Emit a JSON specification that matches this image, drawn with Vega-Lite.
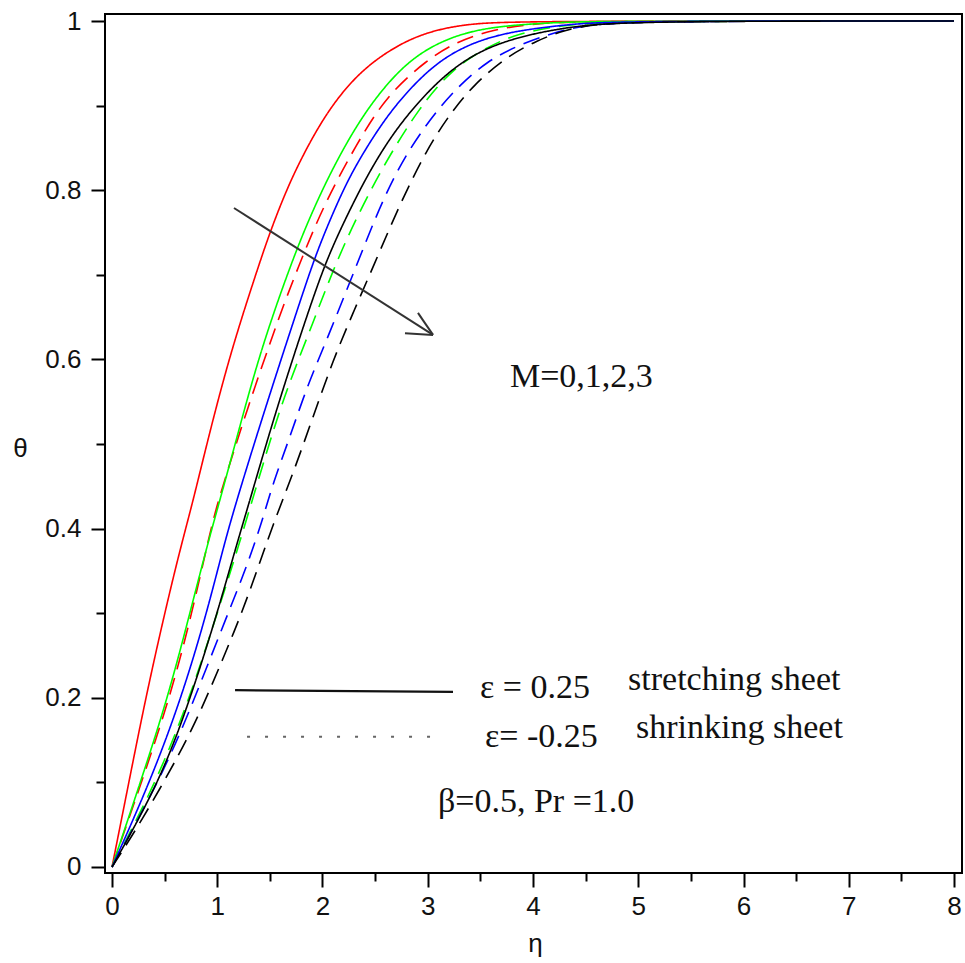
{
  "$schema": "https://vega.github.io/schema/vega-lite/v6.json",
  "width": 857,
  "height": 859,
  "autosize": {"type": "none"},
  "padding": {"left": 105, "top": 14, "right": 3, "bottom": 90},
  "background": "white",
  "config": {
    "view": {"stroke": "#000", "strokeWidth": 2},
    "axis": {"domain": false, "grid": false, "labelFont": "Liberation Sans", "labelFontSize": 26, "labelColor": "#111", "tickColor": "#000", "tickWidth": 2, "titleFont": "Liberation Sans", "titleFontSize": 26, "titleFontWeight": "normal", "titleColor": "#111"}
  },
  "datasets": {
    "curves": [
      {"M":"0","sheet":"shrinking","eta":0,"theta":0},{"M":"0","sheet":"shrinking","eta":0.28,"theta":0.1},{"M":"0","sheet":"shrinking","eta":0.55,"theta":0.2},{"M":"0","sheet":"shrinking","eta":0.76,"theta":0.3},{"M":"0","sheet":"shrinking","eta":0.93,"theta":0.395},{"M":"0","sheet":"shrinking","eta":1.01,"theta":0.434},{"M":"0","sheet":"shrinking","eta":1.28,"theta":0.54},{"M":"0","sheet":"shrinking","eta":1.6,"theta":0.655},{"M":"0","sheet":"shrinking","eta":1.76,"theta":0.706},{"M":"0","sheet":"shrinking","eta":2.0,"theta":0.78},{"M":"0","sheet":"shrinking","eta":2.33,"theta":0.856},{"M":"0","sheet":"shrinking","eta":2.61,"theta":0.912},{"M":"0","sheet":"shrinking","eta":2.99,"theta":0.954},{"M":"0","sheet":"shrinking","eta":3.28,"theta":0.976},{"M":"0","sheet":"shrinking","eta":3.62,"theta":0.99},{"M":"0","sheet":"shrinking","eta":4.0,"theta":0.997},{"M":"0","sheet":"shrinking","eta":4.5,"theta":1.0},{"M":"0","sheet":"shrinking","eta":8,"theta":1.0},
      {"M":"1","sheet":"shrinking","eta":0,"theta":0},{"M":"1","sheet":"shrinking","eta":0.42,"theta":0.1},{"M":"1","sheet":"shrinking","eta":0.74,"theta":0.2},{"M":"1","sheet":"shrinking","eta":1.0,"theta":0.3},{"M":"1","sheet":"shrinking","eta":1.2,"theta":0.378},{"M":"1","sheet":"shrinking","eta":1.41,"theta":0.466},{"M":"1","sheet":"shrinking","eta":1.63,"theta":0.556},{"M":"1","sheet":"shrinking","eta":1.91,"theta":0.643},{"M":"1","sheet":"shrinking","eta":2.17,"theta":0.729},{"M":"1","sheet":"shrinking","eta":2.55,"theta":0.824},{"M":"1","sheet":"shrinking","eta":2.93,"theta":0.9},{"M":"1","sheet":"shrinking","eta":3.24,"theta":0.944},{"M":"1","sheet":"shrinking","eta":3.56,"theta":0.969},{"M":"1","sheet":"shrinking","eta":3.85,"theta":0.985},{"M":"1","sheet":"shrinking","eta":4.26,"theta":0.995},{"M":"1","sheet":"shrinking","eta":4.8,"theta":1.0},{"M":"1","sheet":"shrinking","eta":8,"theta":1.0},
      {"M":"2","sheet":"shrinking","eta":0,"theta":0},{"M":"2","sheet":"shrinking","eta":0.52,"theta":0.118},{"M":"2","sheet":"shrinking","eta":0.84,"theta":0.217},{"M":"2","sheet":"shrinking","eta":1.09,"theta":0.296},{"M":"2","sheet":"shrinking","eta":1.28,"theta":0.355},{"M":"2","sheet":"shrinking","eta":1.43,"theta":0.41},{"M":"2","sheet":"shrinking","eta":1.53,"theta":0.454},{"M":"2","sheet":"shrinking","eta":1.69,"theta":0.508},{"M":"2","sheet":"shrinking","eta":1.85,"theta":0.567},{"M":"2","sheet":"shrinking","eta":2.04,"theta":0.623},{"M":"2","sheet":"shrinking","eta":2.23,"theta":0.682},{"M":"2","sheet":"shrinking","eta":2.38,"theta":0.729},{"M":"2","sheet":"shrinking","eta":2.57,"theta":0.788},{"M":"2","sheet":"shrinking","eta":2.8,"theta":0.845},{"M":"2","sheet":"shrinking","eta":3.09,"theta":0.895},{"M":"2","sheet":"shrinking","eta":3.31,"theta":0.925},{"M":"2","sheet":"shrinking","eta":3.56,"theta":0.952},{"M":"2","sheet":"shrinking","eta":3.85,"theta":0.971},{"M":"2","sheet":"shrinking","eta":4.19,"theta":0.986},{"M":"2","sheet":"shrinking","eta":4.48,"theta":0.995},{"M":"2","sheet":"shrinking","eta":5.0,"theta":1.0},{"M":"2","sheet":"shrinking","eta":8,"theta":1.0},
      {"M":"3","sheet":"shrinking","eta":0,"theta":0},{"M":"3","sheet":"shrinking","eta":0.27,"theta":0.052},{"M":"3","sheet":"shrinking","eta":0.65,"theta":0.135},{"M":"3","sheet":"shrinking","eta":0.86,"theta":0.189},{"M":"3","sheet":"shrinking","eta":1.05,"theta":0.245},{"M":"3","sheet":"shrinking","eta":1.22,"theta":0.296},{"M":"3","sheet":"shrinking","eta":1.38,"theta":0.351},{"M":"3","sheet":"shrinking","eta":1.53,"theta":0.405},{"M":"3","sheet":"shrinking","eta":1.72,"theta":0.465},{"M":"3","sheet":"shrinking","eta":1.91,"theta":0.532},{"M":"3","sheet":"shrinking","eta":2.1,"theta":0.599},{"M":"3","sheet":"shrinking","eta":2.29,"theta":0.655},{"M":"3","sheet":"shrinking","eta":2.48,"theta":0.709},{"M":"3","sheet":"shrinking","eta":2.74,"theta":0.785},{"M":"3","sheet":"shrinking","eta":2.99,"theta":0.848},{"M":"3","sheet":"shrinking","eta":3.21,"theta":0.89},{"M":"3","sheet":"shrinking","eta":3.43,"theta":0.924},{"M":"3","sheet":"shrinking","eta":3.75,"theta":0.958},{"M":"3","sheet":"shrinking","eta":4.04,"theta":0.977},{"M":"3","sheet":"shrinking","eta":4.29,"theta":0.989},{"M":"3","sheet":"shrinking","eta":4.57,"theta":0.996},{"M":"3","sheet":"shrinking","eta":5.1,"theta":1.0},{"M":"3","sheet":"shrinking","eta":8,"theta":1.0},
      {"M":"0","sheet":"stretching","eta":0,"theta":0},{"M":"0","sheet":"stretching","eta":0.16,"theta":0.1},{"M":"0","sheet":"stretching","eta":0.32,"theta":0.2},{"M":"0","sheet":"stretching","eta":0.5,"theta":0.3},{"M":"0","sheet":"stretching","eta":0.646,"theta":0.375},{"M":"0","sheet":"stretching","eta":0.773,"theta":0.434},{"M":"0","sheet":"stretching","eta":0.9,"theta":0.5},{"M":"0","sheet":"stretching","eta":1.12,"theta":0.606},{"M":"0","sheet":"stretching","eta":1.38,"theta":0.706},{"M":"0","sheet":"stretching","eta":1.5,"theta":0.75},{"M":"0","sheet":"stretching","eta":1.64,"theta":0.795},{"M":"0","sheet":"stretching","eta":1.79,"theta":0.836},{"M":"0","sheet":"stretching","eta":2.04,"theta":0.893},{"M":"0","sheet":"stretching","eta":2.36,"theta":0.942},{"M":"0","sheet":"stretching","eta":2.74,"theta":0.974},{"M":"0","sheet":"stretching","eta":3.05,"theta":0.989},{"M":"0","sheet":"stretching","eta":3.4,"theta":0.997},{"M":"0","sheet":"stretching","eta":3.9,"theta":1.0},{"M":"0","sheet":"stretching","eta":8,"theta":1.0},
      {"M":"1","sheet":"stretching","eta":0,"theta":0},{"M":"1","sheet":"stretching","eta":0.27,"theta":0.1},{"M":"1","sheet":"stretching","eta":0.53,"theta":0.2},{"M":"1","sheet":"stretching","eta":0.74,"theta":0.3},{"M":"1","sheet":"stretching","eta":0.9,"theta":0.378},{"M":"1","sheet":"stretching","eta":1.026,"theta":0.434},{"M":"1","sheet":"stretching","eta":1.17,"theta":0.5},{"M":"1","sheet":"stretching","eta":1.41,"theta":0.611},{"M":"1","sheet":"stretching","eta":1.72,"theta":0.72},{"M":"1","sheet":"stretching","eta":1.91,"theta":0.777},{"M":"1","sheet":"stretching","eta":2.12,"theta":0.832},{"M":"1","sheet":"stretching","eta":2.4,"theta":0.893},{"M":"1","sheet":"stretching","eta":2.74,"theta":0.945},{"M":"1","sheet":"stretching","eta":3.05,"theta":0.972},{"M":"1","sheet":"stretching","eta":3.37,"theta":0.987},{"M":"1","sheet":"stretching","eta":3.69,"theta":0.994},{"M":"1","sheet":"stretching","eta":4.16,"theta":0.998},{"M":"1","sheet":"stretching","eta":4.6,"theta":1.0},{"M":"1","sheet":"stretching","eta":8,"theta":1.0},
      {"M":"2","sheet":"stretching","eta":0,"theta":0},{"M":"2","sheet":"stretching","eta":0.36,"theta":0.1},{"M":"2","sheet":"stretching","eta":0.66,"theta":0.2},{"M":"2","sheet":"stretching","eta":0.9,"theta":0.3},{"M":"2","sheet":"stretching","eta":1.058,"theta":0.378},{"M":"2","sheet":"stretching","eta":1.185,"theta":0.434},{"M":"2","sheet":"stretching","eta":1.47,"theta":0.548},{"M":"2","sheet":"stretching","eta":1.79,"theta":0.67},{"M":"2","sheet":"stretching","eta":1.95,"theta":0.729},{"M":"2","sheet":"stretching","eta":2.14,"theta":0.785},{"M":"2","sheet":"stretching","eta":2.29,"theta":0.824},{"M":"2","sheet":"stretching","eta":2.52,"theta":0.871},{"M":"2","sheet":"stretching","eta":2.74,"theta":0.908},{"M":"2","sheet":"stretching","eta":3.05,"theta":0.948},{"M":"2","sheet":"stretching","eta":3.37,"theta":0.972},{"M":"2","sheet":"stretching","eta":3.75,"theta":0.987},{"M":"2","sheet":"stretching","eta":4.32,"theta":0.996},{"M":"2","sheet":"stretching","eta":4.8,"theta":1.0},{"M":"2","sheet":"stretching","eta":8,"theta":1.0},
      {"M":"3","sheet":"stretching","eta":0,"theta":0},{"M":"3","sheet":"stretching","eta":0.45,"theta":0.1},{"M":"3","sheet":"stretching","eta":0.74,"theta":0.197},{"M":"3","sheet":"stretching","eta":1.0,"theta":0.3},{"M":"3","sheet":"stretching","eta":1.17,"theta":0.375},{"M":"3","sheet":"stretching","eta":1.311,"theta":0.434},{"M":"3","sheet":"stretching","eta":1.57,"theta":0.545},{"M":"3","sheet":"stretching","eta":1.91,"theta":0.674},{"M":"3","sheet":"stretching","eta":2.07,"theta":0.727},{"M":"3","sheet":"stretching","eta":2.26,"theta":0.777},{"M":"3","sheet":"stretching","eta":2.42,"theta":0.816},{"M":"3","sheet":"stretching","eta":2.61,"theta":0.856},{"M":"3","sheet":"stretching","eta":2.83,"theta":0.893},{"M":"3","sheet":"stretching","eta":3.12,"theta":0.932},{"M":"3","sheet":"stretching","eta":3.43,"theta":0.961},{"M":"3","sheet":"stretching","eta":3.81,"theta":0.98},{"M":"3","sheet":"stretching","eta":4.32,"theta":0.993},{"M":"3","sheet":"stretching","eta":4.9,"theta":1.0},{"M":"3","sheet":"stretching","eta":8,"theta":1.0}
    ],
    "arrow": [
      {"part":"shaft","eta":1.159,"theta":0.779,"eta2":3.05,"theta2":0.629},
      {"part":"barb1","eta":2.907,"theta":0.655,"eta2":3.05,"theta2":0.629},
      {"part":"barb2","eta":2.784,"theta":0.631,"eta2":3.05,"theta2":0.629}
    ],
    "solidkey": [
      {"eta":1.169,"theta":0.209,"eta2":3.24,"theta2":0.207}
    ],
    "dottedkey": [
      {"eta":1.283,"theta":0.154,"eta2":3.116,"theta2":0.154}
    ],
    "notes": [
      {"label":"M=0,1,2,3","eta":3.781,"theta":0.567},
      {"label":"ε = 0.25","eta":3.497,"theta":0.2},
      {"label":"stretching sheet","eta":4.903,"theta":0.209},
      {"label":"ε= -0.25","eta":3.544,"theta":0.142},
      {"label":"shrinking sheet","eta":4.979,"theta":0.152},
      {"label":"β=0.5, Pr =1.0","eta":3.097,"theta":0.065}
    ]
  },
  "layer": [
    {
      "data": {"name": "curves"},
      "mark": {"type": "line", "strokeWidth": 1.6, "interpolate": "basis", "clip": true},
      "encoding": {
        "x": {"field": "eta", "type": "quantitative", "scale": {"domain": [-0.0665, 8.076], "nice": false, "zero": false},
          "axis": {"title": "η", "values": [0,0.5,1,1.5,2,2.5,3,3.5,4,4.5,5,5.5,6,6.5,7,7.5,8],
            "labelExpr": "datum.value % 1 === 0 ? format(datum.value, 'd') : ''",
            "tickSize": {"condition": {"test": "datum.value % 1 === 0", "value": 14}, "value": 8},
            "labelPadding": 6, "titleX": 430, "titleY": 70, "titleBaseline": "middle"}},
        "y": {"field": "theta", "type": "quantitative", "scale": {"domain": [-0.0071, 1.0083], "nice": false, "zero": false},
          "axis": {"title": "θ", "values": [0,0.1,0.2,0.3,0.4,0.5,0.6,0.7,0.8,0.9,1],
            "labelExpr": "round(datum.value*10) % 2 === 0 ? format(datum.value, '~g') : ''",
            "tickSize": {"condition": {"test": "round(datum.value*10) % 2 === 0", "value": 14}, "value": 9},
            "labelPadding": 10, "titleAngle": 0, "titleX": -85, "titleY": 434, "titleAlign": "center", "titleBaseline": "middle"}},
        "color": {"field": "M", "type": "nominal", "scale": {"domain": ["0","1","2","3"], "range": ["#ff0000","#00ff00","#0000ff","#000000"]}, "legend": null},
        "strokeDash": {"field": "sheet", "type": "nominal", "scale": {"domain": ["stretching","shrinking"], "range": [[1,0],[17,9]]}, "legend": null},
        "detail": {"field": "sheet"}
      }
    },
    {
      "data": {"name": "arrow"},
      "mark": {"type": "rule", "color": "#333", "strokeWidth": 2},
      "encoding": {
        "x": {"field": "eta", "type": "quantitative"},
        "y": {"field": "theta", "type": "quantitative"},
        "x2": {"field": "eta2"},
        "y2": {"field": "theta2"}
      }
    },
    {
      "data": {"name": "solidkey"},
      "mark": {"type": "rule", "strokeWidth": 2.2, "color": "#111"},
      "encoding": {
        "x": {"field": "eta", "type": "quantitative"},
        "y": {"field": "theta", "type": "quantitative"},
        "x2": {"field": "eta2"},
        "y2": {"field": "theta2"}
      }
    },
    {
      "data": {"name": "dottedkey"},
      "mark": {"type": "rule", "strokeWidth": 2, "color": "#666", "strokeDash": [3, 15]},
      "encoding": {
        "x": {"field": "eta", "type": "quantitative"},
        "y": {"field": "theta", "type": "quantitative"},
        "x2": {"field": "eta2"},
        "y2": {"field": "theta2"}
      }
    },
    {
      "data": {"name": "notes"},
      "mark": {"type": "text", "font": "Liberation Serif", "fontSize": 34, "align": "left", "baseline": "alphabetic", "color": "#111"},
      "encoding": {
        "x": {"field": "eta", "type": "quantitative"},
        "y": {"field": "theta", "type": "quantitative"},
        "text": {"field": "label"}
      }
    }
  ]
}
